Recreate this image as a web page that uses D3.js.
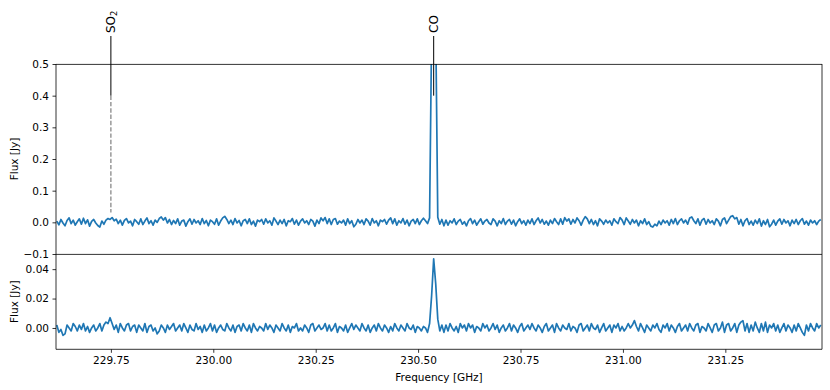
<!DOCTYPE html>
<html>
<head>
<meta charset="utf-8">
<script src="https://cdn.jsdelivr.net/npm/d3@7"></script>
<style>
  html, body { margin: 0; padding: 0; background: #fff; }
  text { font-family: "DejaVu Sans", sans-serif; }
</style>
</head>
<body>
<svg id="chart" width="830" height="390"></svg>
<script>
// ---------------- DATA ----------------
// Channel grid of the spectrum (GHz)
const freqStart = 229.618;
const channelWidth = 0.005;

// Upper panel flux per channel, in mJy (peak is clipped by the axis)
const fluxTopMJy = [
  4,-8,9,-2,-11,6,14,-4,7,-9,
  2,11,-6,13,-4,8,-12,3,9,-2,
  -10,-15,4,-6,7,12,9,15,5,10,
  -4,7,-9,6,12,-2,4,-11,9,2,
  -6,11,-7,4,14,-4,5,-9,7,0,
  12,17,7,15,-2,9,-7,6,-4,11,
  -9,4,7,-12,2,11,-6,9,-2,5,
  -7,12,-4,6,-11,7,2,-6,11,-9,
  4,14,19,9,-4,7,-7,12,-2,6,
  -11,5,9,-4,11,-7,4,-12,7,2,
  9,-6,11,-2,5,-9,14,4,-7,7,
  -4,9,-11,5,2,12,-6,7,-9,4,
  11,-2,5,-7,9,4,-12,7,-4,14,
  5,15,-4,11,-7,9,12,-6,4,-2,
  7,-9,11,-4,5,-14,-6,9,-2,7,
  -7,11,4,-9,12,-2,5,-11,7,2,
  9,-6,7,14,-4,11,-9,5,-2,12,
  -6,7,-11,4,9,-4,11,-7,5,13,
  5,-4,14,600,1500,620,16,-6,9,-11,
  7,-9,5,-2,11,-7,4,9,-6,2,
  -11,5,12,-4,7,-9,2,11,-6,4,
  9,-2,-7,11,4,-11,5,-4,12,-7,
  4,9,-6,7,-11,2,11,-4,5,-9,
  7,-4,11,-7,5,14,-2,9,-6,4,
  -9,7,-4,12,2,-7,11,-6,15,4,
  11,-6,9,-2,14,5,-9,7,18,11,
  -4,9,-7,5,-11,11,4,-6,7,-2,
  5,-9,11,2,-4,15,7,-7,14,4,
  -6,9,-2,7,-11,5,-4,11,-7,2,
  -12,-15,-6,-11,4,-7,7,-2,5,-9,
  9,-4,12,-7,5,11,-2,7,-6,14,
  17,5,-4,11,-9,7,12,-6,9,-2,
  5,-7,11,4,-11,9,14,-4,7,18,
  21,11,15,-6,9,-11,5,12,-7,4,
  -9,7,-4,11,-12,5,-7,9,-14,-6,
  7,-9,4,11,-6,9,-2,5,-11,7,
  -4,9,-7,5,12,-6,4,-9,7,-2,
  5,-7,4,9
];

// Lower panel flux per channel, in mJy
const fluxBottomMJy = [
  2,-3,-1,-5,-4,2,0,-2,3,1,
  -2,2,-1,3,-2,1,-3,0,2,-2,
  0,3,-2,2,4,3,7,3,-1,2,
  -3,3,0,-2,2,3,-2,1,2,-3,
  2,0,-2,3,-3,1,2,-2,0,-4,
  -2,2,0,-3,2,-1,1,3,-2,0,
  2,-2,3,0,-3,2,-1,-2,3,-1,
  1,-3,2,-2,0,3,-2,2,-3,0,
  2,-1,-2,3,0,-2,2,-3,1,2,
  -2,3,0,-2,2,-3,3,0,-2,1,
  0,-2,3,-1,2,0,-3,2,0,-2,
  3,0,-2,2,-3,1,0,3,-2,0,
  -2,2,0,-3,2,3,-2,0,2,-1,
  0,3,-2,2,-2,0,3,-3,1,0,
  -2,2,-3,0,3,-1,2,0,-2,3,
  0,-2,2,-3,0,2,-2,3,0,-2,
  2,0,-3,1,-2,3,0,-2,2,0,
  -2,3,0,-1,2,-3,1,0,-2,1,
  0,-3,3,22,47,30,6,-2,2,-3,
  2,-2,3,0,-2,1,-3,3,0,2,
  -2,3,0,2,-3,1,0,-2,3,0,
  2,-2,0,3,-1,2,-3,0,2,-2,
  0,3,-2,2,0,-3,1,3,-2,0,
  2,-1,3,0,-2,2,0,-3,1,3,
  -2,0,2,-3,3,0,-2,2,0,-1,
  3,-2,1,0,-3,2,3,-2,0,2,
  -2,3,0,-1,2,-3,0,3,-2,0,
  2,-3,2,0,3,-2,1,-2,0,3,
  0,2,5,1,-2,3,0,-3,2,0,
  -2,2,0,3,-1,-3,2,0,3,-2,
  2,0,-3,1,3,-2,0,2,-2,3,
  0,-2,2,3,-3,1,0,-2,3,0,
  -3,2,3,-2,0,4,-3,2,3,-2,
  0,3,-3,2,4,5,-2,3,-3,2,
  -2,4,0,-3,3,-2,4,-3,2,0,
  3,-2,2,-3,0,3,-2,2,0,-3,
  2,-2,3,0,-3,-5,2,-2,3,0,
  -2,3,0,2
];

// Line markers
const lineNames = ["SO2", "CO"];
const lineFreqs = [229.75, 230.538];
const lineMarkerLevel = 0.4;

// Axis ticks
const xTicks = [229.75, 230.00, 230.25, 230.50, 230.75, 231.00, 231.25];
const yTicksTop = [-0.1, 0.0, 0.1, 0.2, 0.3, 0.4, 0.5];
const yTicksBottom = [0.00, 0.02, 0.04];
const xDomain = [229.616, 231.486];
const yDomainTop = [-0.1, 0.5];
const yDomainBottom = [-0.0145, 0.0503];

// ---------------- CHART ----------------
const svg = d3.select("#chart");
svg.append("rect").attr("width", 830).attr("height", 390).attr("fill", "#fff");

const L = 56, R = 822;
const topY0 = 64, topY1 = 254, botY0 = 254, botY1 = 349.3;
const blue = "#1f77b4";
const fs = 10.5;

const x = d3.scaleLinear().domain(xDomain).range([L, R]);
const yT = d3.scaleLinear().domain(yDomainTop).range([topY1, topY0]);
const yB = d3.scaleLinear().domain(yDomainBottom).range([botY1, botY0]);

const topData = fluxTopMJy.map((v, i) => ({f: freqStart + i * channelWidth, v: v / 1000}));
const botData = fluxBottomMJy.map((v, i) => ({f: freqStart + i * channelWidth, v: v / 1000}));

const defs = svg.append("defs");
defs.append("clipPath").attr("id", "clipTop").append("rect")
  .attr("x", L).attr("y", topY0).attr("width", R - L).attr("height", topY1 - topY0);
defs.append("clipPath").attr("id", "clipBot").append("rect")
  .attr("x", L).attr("y", botY0).attr("width", R - L).attr("height", botY1 - botY0);

// dashed continuation of marker lines (down to the data value)
const interp = f => {
  const i = (f - freqStart) / channelWidth;
  const i0 = Math.max(0, Math.floor(i)), i1 = Math.min(topData.length - 1, i0 + 1);
  const t = i - i0;
  return topData[i0].v * (1 - t) + topData[i1].v * t;
};
const gTop = svg.append("g").attr("clip-path", "url(#clipTop)");
lineFreqs.forEach(f => {
  const dv = interp(f);
  if (dv < lineMarkerLevel) {
    gTop.append("line")
      .attr("x1", x(f)).attr("x2", x(f))
      .attr("y1", yT(lineMarkerLevel)).attr("y2", yT(dv + 0.02))
      .attr("stroke", "#7f7f7f").attr("stroke-width", 1.2)
      .attr("stroke-dasharray", "4.4,1.9");
  }
});

const lineTop = d3.line().x(d => x(d.f)).y(d => yT(d.v));
const lineBot = d3.line().x(d => x(d.f)).y(d => yB(d.v));

gTop.append("path").datum(topData).attr("d", lineTop)
  .attr("fill", "none").attr("stroke", blue).attr("stroke-width", 1.7)
  .attr("stroke-linejoin", "round");

svg.append("g").attr("clip-path", "url(#clipBot)")
  .append("path").datum(botData).attr("d", lineBot)
  .attr("fill", "none").attr("stroke", blue).attr("stroke-width", 1.7)
  .attr("stroke-linejoin", "round");

// marker solid lines and labels
lineFreqs.forEach((f, k) => {
  const xx = x(f);
  svg.append("line").attr("x1", xx).attr("x2", xx)
    .attr("y1", 36).attr("y2", yT(lineMarkerLevel))
    .attr("stroke", "#000").attr("stroke-width", 1);
  const t = svg.append("text")
    .attr("transform", `translate(${xx},33) rotate(-90)`)
    .attr("dy", "0.36em")
    .attr("font-size", 12).attr("fill", "#000");
  const name = lineNames[k];
  const m = name.match(/^([A-Za-z]+)(\d*)$/);
  t.append("tspan").text(m[1]);
  if (m[2]) {
    t.append("tspan").attr("font-size", 8.4).attr("dy", "0.25em").text(m[2]);
  }
});

// axes
const axT = svg.append("g").attr("transform", `translate(${L},0)`)
  .call(d3.axisLeft(yT).tickValues(yTicksTop).tickSize(3.5).tickPadding(3.5)
    .tickFormat(d => d3.format(".1f")(d).replace("-", "\u2212")));
const axB = svg.append("g").attr("transform", `translate(${L},0)`)
  .call(d3.axisLeft(yB).tickValues(yTicksBottom).tickSize(3.5).tickPadding(3.5)
    .tickFormat(d3.format(".2f")));
const axX = svg.append("g").attr("transform", `translate(0,${botY1})`)
  .call(d3.axisBottom(x).tickValues(xTicks).tickSize(3.5).tickPadding(3.5)
    .tickFormat(d3.format(".2f")));
[axT, axB, axX].forEach(g => {
  g.select(".domain").remove();
  g.selectAll(".tick line").attr("stroke", "#000").attr("stroke-width", 0.8);
  g.selectAll(".tick text").attr("font-size", fs).attr("fill", "#000")
    .attr("font-family", "DejaVu Sans");
});

// spines
const sp = (x1, y1, x2, y2) => svg.append("line")
  .attr("x1", x1).attr("y1", y1).attr("x2", x2).attr("y2", y2)
  .attr("stroke", "#000").attr("stroke-width", 0.8);
sp(L, topY0, L, botY1);
sp(R, topY0, R, botY1);
sp(L, topY0 + 0.4, R, topY0 + 0.4);
sp(L, botY0 + 0.4, R, botY0 + 0.4);
sp(L, botY1, R, botY1);

// axis labels
svg.append("text").attr("transform", `translate(14,${(topY0 + topY1) / 2}) rotate(-90)`)
  .attr("text-anchor", "middle").attr("dy", "0.35em").attr("font-size", fs).text("Flux [Jy]");
svg.append("text").attr("transform", `translate(14,${(botY0 + botY1) / 2}) rotate(-90)`)
  .attr("text-anchor", "middle").attr("dy", "0.35em").attr("font-size", fs).text("Flux [Jy]");
svg.append("text").attr("x", (L + R) / 2).attr("y", 381)
  .attr("text-anchor", "middle").attr("font-size", fs).text("Frequency [GHz]");
</script>
</body>
</html>
